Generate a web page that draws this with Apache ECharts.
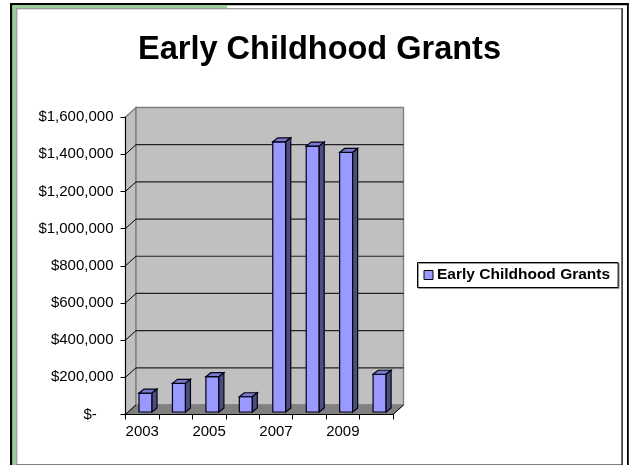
<!DOCTYPE html>
<html><head><meta charset="utf-8">
<style>html,body{margin:0;padding:0;background:#fff}#c{width:630px;height:465px}</style>
<script src="https://cdn.jsdelivr.net/npm/echarts@6/dist/echarts.min.js"></script>
</head><body><div id="c"></div>
<script>
const categories = ['2003','2004','2005','2006','2007','2008','2009','2010'];
const grants = [102000,154000,190000,82000,1453000,1430000,1396000,203000];
const yTicks = [0,200000,400000,600000,800000,1000000,1200000,1400000,1600000];
const seriesName = 'Early Childhood Grants';
const DX = 10.5, DY = 9.5, BW = 13, BDX = 5, BDY = 4, OX = 3.3, OY = 2.5;

const chart = echarts.init(document.getElementById('c'), null, {renderer:'canvas'});
const fmt = v => v === 0 ? '$-    ' : '$' + v.toLocaleString('en-US');
function poly(points, fill, stroke, lw){
  return {type:'polygon', shape:{points}, style:{fill, stroke, lineWidth:lw}};
}
function bar(x,y,w,h,fill){
  return {type:'rect',silent:true,z:50,shape:{x,y,width:w,height:h},style:{fill}};
}
chart.setOption({
  animation:false,
  backgroundColor:'#fff',
  title:{text:seriesName,left:314.5,top:29,textAlign:'center',
    textStyle:{fontFamily:'Liberation Sans',fontWeight:'bold',fontSize:32.5,color:'#000'}},
  legend:{data:[seriesName],left:417.5,top:262.5,orient:'horizontal',
    padding:[4.5,8,4.5,6],itemGap:0,itemWidth:9,itemHeight:9,
    backgroundColor:'#fff',borderColor:'#000',borderWidth:1,
    shadowColor:'#999',shadowOffsetX:1,shadowOffsetY:1,
    icon:'rect',
    itemStyle:{color:'#9999FF',borderColor:'#000',borderWidth:1},
    textStyle:{fontFamily:'Liberation Sans',fontWeight:'bold',fontSize:15.5,color:'#000',padding:[0,0,0,-1]}},
  grid:{left:125.5,top:117,width:267.5,height:297.5,containLabel:false},
  xAxis:{type:'category',data:categories,boundaryGap:true,
    axisLine:{lineStyle:{color:'#000',width:1}},
    axisTick:{show:true,alignWithLabel:false,interval:0,length:5,lineStyle:{color:'#000'}},
    axisLabel:{interval:1,margin:10,showMinLabel:true,fontFamily:'Liberation Sans',fontSize:15,color:'#000'},
    z:5},
  yAxis:{type:'value',min:0,max:1600000,interval:200000,
    axisLine:{show:true,lineStyle:{color:'#000',width:1}},
    axisTick:{show:true,length:5,lineStyle:{color:'#000'}},
    splitLine:{show:false},
    axisLabel:{margin:12,formatter:fmt,fontFamily:'Liberation Sans',fontSize:15,color:'#000',padding:[3,0,0,0]},
    z:5},
  series:[
    {type:'custom',silent:true,z:1,clip:false,data:[0],
      renderItem(params,api){
        const c=params.coordSys, l=c.x, r=c.x+c.width, t=c.y, b=c.y+c.height;
        return {type:'group',children:[
          poly([[l,t],[l+DX,t-DY],[l+DX,b-DY],[l,b]],'#C0C0C0','#808080',1.4),
          poly([[l+DX,t-DY],[r+DX,t-DY],[r+DX,b-DY],[l+DX,b-DY]],'#C0C0C0','#808080',1.4),
          poly([[l,b],[l+DX,b-DY],[r+DX,b-DY],[r,b]],'#808080','#808080',1)
        ]};
      }},
    {type:'custom',silent:true,z:2,clip:false,data:yTicks.slice(1,-1).map(v=>[v]).concat([[0]]),
      encode:{y:0},
      renderItem(params,api){
        const c=params.coordSys, y=api.coord([0,api.value(0)])[1], l=c.x, r=c.x+c.width;
        const kids=[{type:'line',shape:{x1:l,y1:y,x2:l+DX,y2:y-DY},style:{stroke:'#000',lineWidth:1}}];
        if(api.value(0)>0) kids.push({type:'line',shape:{x1:l+DX,y1:y-DY,x2:r+DX,y2:y-DY},style:{stroke:'#222',lineWidth:1.2}});
        else kids.push({type:'line',shape:{x1:r,y1:y,x2:r+DX,y2:y-DY},style:{stroke:'#000',lineWidth:1}});
        return {type:'group',children:kids};
      }},
    {type:'custom',name:seriesName,z:3,clip:false,
      itemStyle:{color:'#9999FF'},
      data:grants.map((v,i)=>[i,v]),encode:{x:0,y:1},
      renderItem(params,api){
        const p=api.coord([api.value(0),api.value(1)]), z=api.coord([api.value(0),0]);
        const xl=p[0]+OX-BW/2, xr=xl+BW, yt=p[1]-OY, yb=z[1]-OY;
        const s='#000011';
        return {type:'group',children:[
          poly([[xl,yt],[xr,yt],[xr,yb],[xl,yb]],'#9999FF',s,1.2),
          poly([[xl,yt],[xl+BDX,yt-BDY],[xr+BDX,yt-BDY],[xr,yt]],'#7A7ACC',s,1.2),
          poly([[xr,yt],[xr+BDX,yt-BDY],[xr+BDX,yb-BDY],[xr,yb]],'#4D4D80',s,1.2)
        ]};
      }}
  ],
  graphic:[
    bar(10,3,618.5,2.2,'#000'),
    bar(10,3,2.5,462,'#000'),
    bar(627,3,1.8,462,'#000'),
    bar(12.5,5.2,214.5,3,'#99CC99'),
    bar(12.5,5.2,3.8,460,'#99CC99'),
    bar(16.3,8.2,606,1,'#808080'),
    bar(16.3,8.2,1,457,'#808080'),
    bar(16.3,464,606,1,'#808080'),
    bar(621.3,8.2,1.6,457,'#333')
  ]
});
</script></body></html>
